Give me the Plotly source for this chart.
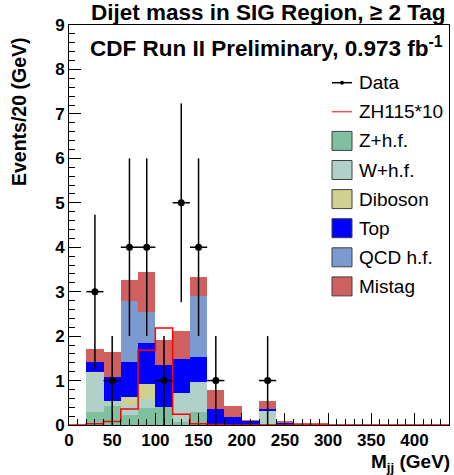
import plotly.graph_objects as go
import numpy as np

# ---- data (20 GeV bins, 0-440 GeV) ----
bin_edges = list(range(0, 460, 20))
bin_centers = [e + 10 for e in bin_edges[:-1]]

z_hf    = [0, 0.30, 0.42, 0.23, 0.38, 0.41, 0.07, 0.30, 0, 0, 0, 0.02, 0, 0, 0, 0, 0, 0, 0, 0, 0, 0]
w_hf    = [0, 0.87, 0.12, 0.21, 0.21, 0.00, 0.65, 0.66, 0, 0, 0, 0.30, 0, 0, 0, 0, 0, 0, 0, 0, 0, 0]
diboson = [0, 0.02, 0.00, 0.20, 0.34, 0.00, 0.00, 0.00, 0, 0, 0, 0, 0, 0, 0, 0, 0, 0, 0, 0, 0, 0]
top     = [0, 0.22, 0.55, 0.77, 0.91, 0.94, 0.76, 0.56, 0.35, 0.17, 0.10, 0.04, 0.05, 0.01, 0.01, 0, 0, 0, 0, 0, 0, 0]
qcd_hf  = [0, 0.00, 0.00, 1.37, 0.70, 0.00, 0.00, 1.39, 0, 0, 0, 0, 0, 0, 0, 0, 0, 0, 0, 0, 0, 0]
mistag  = [0, 0.30, 0.56, 0.49, 0.90, 0.57, 0.64, 0.42, 0.44, 0.26, 0.01, 0.17, 0.03, 0.02, 0.02, 0, 0, 0, 0, 0, 0, 0]
zh115x10 = [0, 0.03, 0.08, 0.36, 1.68, 2.18, 0.24, 0.03, 0.01, 0, 0, 0, 0, 0, 0, 0, 0, 0, 0, 0, 0, 0]

data_x = [30, 50, 70, 90, 110, 130, 150, 170, 230]
data_y = [3, 1, 4, 4, 1, 5, 4, 1, 1]

series_names = ["Z+h.f.", "W+h.f.", "Diboson", "Top", "QCD h.f.", "Mistag"]
series_vals = [z_hf, w_hf, diboson, top, qcd_hf, mistag]
series_cols = ["#80c0a0", "#b0d0c8", "#d0d090", "#0000ff", "#7b9bd0", "#d06060"]

FONT = "Liberation Sans"
W, H = 454, 475
L, R, T, B = 69, 5, 25, 50


def px(xp):
    return (xp - L) / (W - L - R)


def py(yp):
    return (H - B - yp) / (H - T - B)


fig = go.Figure()
for name, vals, col in zip(series_names, series_vals, series_cols):
    fig.add_trace(go.Bar(x=bin_centers, y=vals, width=20, name=name,
                         marker=dict(color=col, line=dict(width=0)),
                         showlegend=False))

# ZH115*10 step histogram
step_x = bin_edges
step_y = zh115x10 + [zh115x10[-1]]
fig.add_trace(go.Scatter(x=step_x, y=step_y, mode="lines", line=dict(color="#ff0000", width=1.5, shape="hv"),
                         showlegend=False))

# Data with sqrt(N) errors
fig.add_trace(go.Scatter(x=data_x, y=data_y, mode="markers",
                         marker=dict(color="black", size=7),
                         error_y=dict(type="data", array=list(np.sqrt(data_y)), color="black", thickness=1.5, width=0),
                         error_x=dict(type="constant", value=10, color="black", thickness=1.5, width=0),
                         showlegend=False))

fig.update_layout(
    width=W, height=H, margin=dict(l=L, r=R, t=T, b=B),
    barmode="stack", paper_bgcolor="white", plot_bgcolor="white",
    font=dict(family=FONT, color="black"),
)
fig.update_xaxes(range=[0, 440], tick0=0, dtick=50, ticks="inside", ticklen=12, tickwidth=1, tickcolor="black",
                 minor=dict(dtick=10, ticks="inside", ticklen=6, tickcolor="black"),
                 showline=True, linecolor="black", linewidth=1, mirror=True, showgrid=False, zeroline=False,
                 tickfont=dict(family=FONT, size=17, weight="bold"))
fig.update_yaxes(range=[0, 9], tick0=0, dtick=1, ticks="inside", ticklen=12, tickwidth=1, tickcolor="black",
                 minor=dict(dtick=0.2, ticks="inside", ticklen=6, tickcolor="black"),
                 showline=True, linecolor="black", linewidth=1, mirror=True, showgrid=False, zeroline=False,
                 tickfont=dict(family=FONT, size=17, weight="bold"))

ann = []
ann.append(dict(text="Dijet mass in SIG Region, \u2265 2 Tag", x=px(448), y=py(12), xref="paper", yref="paper",
                xanchor="right", yanchor="middle", showarrow=False,
                font=dict(family=FONT, size=22.5, weight="bold")))
ann.append(dict(text="CDF Run II Preliminary, 0.973 fb<sup>-1</sup>", x=px(88), y=py(47), xref="paper", yref="paper",
                xanchor="left", yanchor="middle", showarrow=False,
                font=dict(family=FONT, size=22.5, weight="bold")))
ann.append(dict(text="M<sub>jj</sub> (GeV)", x=px(452), y=py(449), xref="paper", yref="paper",
                xanchor="right", yanchor="top", showarrow=False,
                font=dict(family=FONT, size=19, weight="bold")))
ann.append(dict(text="Events/20 (GeV)", x=px(19), y=py(112), xref="paper", yref="paper",
                xanchor="center", yanchor="middle", showarrow=False, textangle=-90,
                font=dict(family=FONT, size=19.5, weight="bold")))

# Manual legend
leg_names = ["Data", "ZH115*10"] + series_names
leg_y0, leg_dy = 82.7, 29.1
shapes = []
for i, name in enumerate(leg_names):
    yc = leg_y0 + i * leg_dy
    ann.append(dict(text=name, x=px(357), y=py(yc), xref="paper", yref="paper", xanchor="left", yanchor="middle",
                    showarrow=False, font=dict(family=FONT, size=19)))
    if i == 0:
        shapes.append(dict(type="line", xref="paper", yref="paper", x0=px(332), x1=px(352), y0=py(yc), y1=py(yc),
                           line=dict(color="black", width=1.5)))
        shapes.append(dict(type="circle", xref="paper", yref="paper", x0=px(340), x1=px(344), y0=py(yc + 2), y1=py(yc - 2),
                           fillcolor="black", line=dict(color="black", width=0)))
    elif i == 1:
        shapes.append(dict(type="line", xref="paper", yref="paper", x0=px(332), x1=px(352), y0=py(yc), y1=py(yc),
                           line=dict(color="#ff0000", width=1)))
    else:
        col = series_cols[i - 2]
        shapes.append(dict(type="rect", xref="paper", yref="paper", x0=px(332), x1=px(352), y0=py(yc + 9.5), y1=py(yc - 9.5),
                           fillcolor=col, line=dict(color="#404040", width=1)))

fig.update_layout(annotations=ann, shapes=shapes)
fig.write_html("out.html")
